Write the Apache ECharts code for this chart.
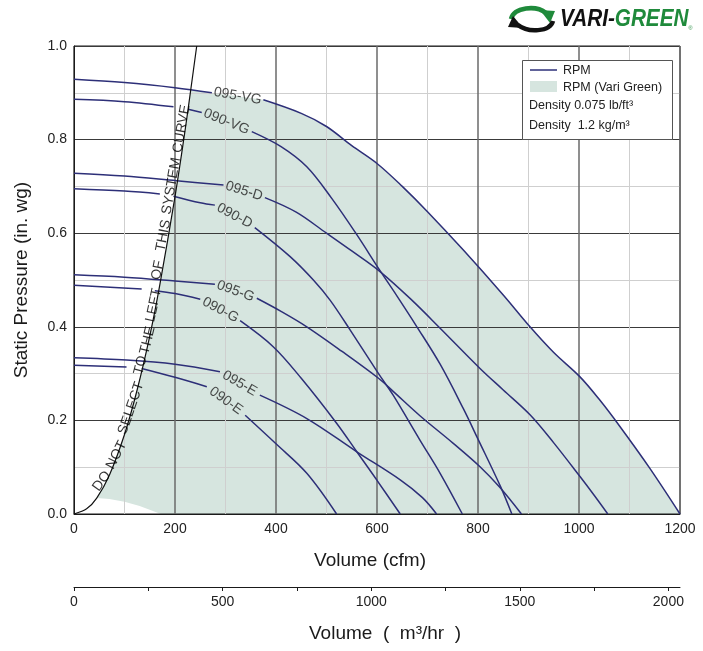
<!DOCTYPE html>
<html>
<head>
<meta charset="utf-8">
<script src="https://cdn.jsdelivr.net/npm/echarts@6/dist/echarts.min.js"></script>
<style>
html, body { margin: 0; padding: 0; background: #fff; }
#chart { width: 703px; height: 651px; }
</style>
</head>
<body>
<div id="chart"></div>
<script>
// fan curves, [cfm, in. wg]; '-' marks the gap where a label sits on the line
var rpm095VG = [[0, 0.929], [100, 0.922], [200, 0.911], [273, 0.900], [273, '-'], [375, 0.885], [450, 0.856], [500, 0.828], [550, 0.787], [600, 0.749], [650, 0.700], [700, 0.646], [771, 0.564], [850, 0.468], [903, 0.400], [950, 0.345], [1002, 0.293], [1040, 0.245], [1081, 0.187], [1140, 0.098], [1200, 0]];
var rpm090VG = [[0, 0.886], [100, 0.881], [197, 0.870], [197, '-'], [226, 0.865], [253, 0.858], [253, '-'], [352, 0.817], [410, 0.785], [461, 0.742], [510, 0.675], [558, 0.600], [606, 0.520], [640, 0.465], [679, 0.400], [725, 0.320], [771, 0.225], [800, 0.160], [844, 0.060], [867, 0]];
var rpm095D = [[0, 0.728], [100, 0.722], [203, 0.712], [296, 0.703], [296, '-'], [378, 0.676], [440, 0.645], [500, 0.600], [550, 0.562], [606, 0.518], [669, 0.457], [725, 0.397], [804, 0.311], [850, 0.265], [903, 0.212], [950, 0.152], [1002, 0.080], [1030, 0.040], [1057, 0]];
var rpm090D = [[0, 0.695], [100, 0.690], [170, 0.684], [170, '-'], [197, 0.679], [250, 0.665], [279, 0.660], [279, '-'], [358, 0.612], [428, 0.550], [474, 0.500], [507, 0.457], [547, 0.393], [603, 0.300], [632, 0.254], [685, 0.158], [725, 0.087], [769, 0]];
var rpm095G = [[0, 0.511], [100, 0.506], [200, 0.498], [279, 0.491], [279, '-'], [362, 0.461], [410, 0.433], [461, 0.400], [530, 0.348], [603, 0.290], [632, 0.262], [685, 0.210], [751, 0.151], [804, 0.101], [844, 0.056], [886, 0]];
var rpm090G = [[0, 0.489], [134, 0.481], [134, '-'], [160, 0.477], [200, 0.471], [250, 0.459], [250, '-'], [329, 0.413], [395, 0.357], [450, 0.290], [520, 0.194], [560, 0.133], [600, 0.072], [646, 0]];
var rpm095E = [[0, 0.334], [104, 0.329], [200, 0.320], [289, 0.304], [289, '-'], [368, 0.254], [461, 0.204], [560, 0.133], [646, 0.073], [690, 0.035], [718, 0]];
var rpm090E = [[0, 0.318], [104, 0.314], [104, '-'], [134, 0.311], [200, 0.292], [263, 0.272], [263, '-'], [339, 0.211], [400, 0.150], [461, 0.087], [520, 0]];

// system curve and lower edge of the Vari Green zone
var sysCurve = [[0, 0], [25, 0.011], [45, 0.034], [70, 0.083], [100, 0.170], [125, 0.265], [150, 0.380], [170, 0.490], [200, 0.678], [220, 0.820], [231, 0.905], [243, 1.0]];
var vgLower = [[45, 0.034], [70, 0.032], [100, 0.026], [130, 0.017], [155, 0.007], [172, 0]];

var curves = [
  ['095-VG', rpm095VG], ['090-VG', rpm090VG], ['095-D', rpm095D], ['090-D', rpm090D],
  ['095-G', rpm095G], ['090-G', rpm090G], ['095-E', rpm095E], ['090-E', rpm090E]
];

// curve labels: name, cfm, in. wg, angle
var curveLabels = [
  ['095-VG', 324, 0.893, -10], ['090-VG', 302, 0.838, -22],
  ['095-D', 337, 0.690, -17], ['090-D', 318, 0.637, -28],
  ['095-G', 320, 0.476, -20], ['090-G', 290, 0.436, -28],
  ['095-E', 328, 0.279, -30], ['090-E', 301, 0.242, -36]
];

// words written along the system curve: word, cfm, in. wg, angle
var sysWords = [
  ['DO', 55, 0.070, 54], ['NOT', 84, 0.126, 63], ['SELECT', 113, 0.226, 71],
  ['TO', 132, 0.318, 75], ['THE', 146, 0.371, 76], ['LEFT', 158, 0.446, 78],
  ['OF', 166, 0.521, 79], ['THIS', 177, 0.595, 79], ['SYSTEM', 193, 0.701, 80],
  ['CURVE', 213, 0.823, 80]
];

var m3hMax = 2039;   // 1200 cfm in m3/hr

var navy = '#2d2f78';
var shade = '#d6e5df';
var font = 'Liberation Sans';

// polygon of the shaded zone
var areaPoly = [[231, 0.905]];
sysCurve.slice().reverse().forEach(function (p) {
  if (p[0] < 231 && p[0] > 45) areaPoly.push(p);
});
vgLower.forEach(function (p) { areaPoly.push(p); });
rpm095VG.slice().reverse().forEach(function (p) {
  if (p[0] > 231 && p[1] !== '-') areaPoly.push(p);
});

var series = [];
series.push({
  type: 'custom',
  name: 'RPM (Vari Green)',
  data: areaPoly,
  z: -1,
  silent: true,
  renderItem: function (params, api) {
    if (params.dataIndex !== 0) return;
    var pts = areaPoly.map(function (p) { return api.coord(p); });
    return { type: 'polygon', shape: { points: pts }, style: { fill: shade } };
  }
});

curves.forEach(function (c) {
  series.push({
    type: 'line',
    name: c[0],
    data: c[1],
    smooth: 0.35,
    symbol: 'none',
    connectNulls: false,
    lineStyle: { color: navy, width: 1.5 },
    z: 3,
    silent: true
  });
});

series.push({
  type: 'line',
  name: 'system',
  data: sysCurve,
  smooth: 0.3,
  symbol: 'none',
  lineStyle: { color: '#111', width: 1.2 },
  z: 3,
  silent: true
});

series.push({
  type: 'scatter',
  symbolSize: 0,
  silent: true,
  z: 5,
  data: curveLabels.map(function (l) {
    return { name: l[0], value: [l[1], l[2]], label: { rotate: l[3] } };
  }),
  label: {
    show: true, position: 'inside', formatter: '{b}',
    fontFamily: font, fontSize: 14, color: '#222'
  }
});

series.push({
  type: 'scatter',
  symbolSize: 0,
  silent: true,
  z: 5,
  data: sysWords.map(function (w) {
    return { name: w[0], value: [w[1], w[2]], label: { rotate: w[3] } };
  }),
  label: {
    show: true, position: 'inside', formatter: '{b}',
    fontFamily: font, fontSize: 14, color: '#000'
  }
});

var chart = echarts.init(document.getElementById('chart'));
chart.setOption({
  animation: false,
  backgroundColor: '#fff',
  textStyle: { fontFamily: font },
  grid: [
    { left: 74, right: 23, top: 46, height: 468, show: true, borderColor: '#1a1a1a', borderWidth: 1, backgroundColor: 'transparent' },
    { left: 74, right: 23, top: 587, height: 0 }
  ],
  xAxis: [{
    type: 'value', gridIndex: 0, min: 0, max: 1200, interval: 200,
    name: 'Volume (cfm)', nameLocation: 'middle', nameGap: 37,
    nameTextStyle: { fontSize: 19, color: '#1a1a1a', fontFamily: font, padding: [0, 14, 0, 0] },
    axisLine: { show: true, lineStyle: { color: '#1a1a1a', width: 1 } },
    axisTick: { show: false },
    axisLabel: { fontSize: 14, color: '#222', margin: 8, fontFamily: font,
      formatter: function (v) { return String(v); } },
    splitLine: { show: true, lineStyle: { color: '#6a6a6a', width: 1.5 } },
    minorTick: { show: false, splitNumber: 2 },
    minorSplitLine: { show: true, lineStyle: { color: '#cfcfcf', width: 1 } }
  }, {
    type: 'value', gridIndex: 1, min: 0, max: m3hMax, interval: 250,
    name: 'Volume  (  m³/hr  )', nameLocation: 'middle', nameGap: 37,
    nameTextStyle: { fontSize: 19, color: '#1a1a1a', fontFamily: font, padding: [0, 0, 0, 16] },
    axisLine: { show: true, lineStyle: { color: '#1a1a1a', width: 1 } },
    axisTick: { show: true, length: 4, lineStyle: { color: '#1a1a1a' } },
    axisLabel: {
      fontSize: 14, color: '#222', margin: 8, fontFamily: font, showMaxLabel: false,
      formatter: function (v) { return v % 500 === 0 ? String(v) : ''; }
    },
    splitLine: { show: false }
  }],
  yAxis: [{
    type: 'value', gridIndex: 0, min: 0, max: 1.0, interval: 0.2,
    name: 'Static Pressure (in. wg)', nameLocation: 'middle', nameGap: 43,
    nameTextStyle: { fontSize: 19, color: '#1a1a1a', fontFamily: font },
    axisLine: { show: true, lineStyle: { color: '#1a1a1a', width: 1 } },
    axisTick: { show: false },
    axisLabel: { fontSize: 14, color: '#222', margin: 7, fontFamily: font,
      formatter: function (v) { return v.toFixed(1); } },
    splitLine: { show: true, lineStyle: { color: '#3a3a3a', width: 1 } },
    minorTick: { show: false, splitNumber: 2 },
    minorSplitLine: { show: true, lineStyle: { color: '#cfcfcf', width: 1 } }
  }, {
    type: 'value', gridIndex: 1, show: false, min: 0, max: 1
  }],
  series: series,
  graphic: [
    // legend box
    { type: 'rect', z: 10, shape: { x: 522.5, y: 60.5, width: 150, height: 79 },
      style: { fill: '#fff', stroke: '#555', lineWidth: 1 } },
    { type: 'line', z: 11, shape: { x1: 530, y1: 70, x2: 557, y2: 70 },
      style: { stroke: navy, lineWidth: 1.5 } },
    { type: 'text', z: 11, x: 563, y: 64,
      style: { text: 'RPM', fontSize: 12.5, fontFamily: font, fill: '#222' } },
    { type: 'rect', z: 11, shape: { x: 530, y: 81, width: 27, height: 11 },
      style: { fill: shade } },
    { type: 'text', z: 11, x: 563, y: 81,
      style: { text: 'RPM (Vari Green)', fontSize: 12.5, fontFamily: font, fill: '#222' } },
    { type: 'text', z: 11, x: 529, y: 99,
      style: { text: 'Density 0.075 lb/ft³', fontSize: 12.5, fontFamily: font, fill: '#222' } },
    { type: 'text', z: 11, x: 529, y: 119,
      style: { text: 'Density  1.2 kg/m³', fontSize: 12.5, fontFamily: font, fill: '#222' } },
    // logo
    { type: 'bezierCurve', z: 11,
      shape: { x1: 511, y1: 19, cpx1: 514, cpy1: 7, cpx2: 536, cpy2: 5, x2: 546, y2: 13 },
      style: { fill: null, stroke: '#1f8a3b', lineWidth: 4.5 } },
    { type: 'polygon', z: 11, shape: { points: [[540, 10], [555, 11], [550, 23]] },
      style: { fill: '#1f8a3b' } },
    { type: 'bezierCurve', z: 11,
      shape: { x1: 553, y1: 21, cpx1: 550, cpy1: 32, cpx2: 528, cpy2: 33, x2: 518, y2: 25 },
      style: { fill: null, stroke: '#111', lineWidth: 4.5 } },
    { type: 'polygon', z: 11, shape: { points: [[523, 28], [508, 27], [513, 16]] },
      style: { fill: '#111' } },
    { type: 'text', z: 11, x: 560, y: 8, scaleX: 0.9,
      style: {
        text: '{a|VARI-}{b|GREEN}{c|®}',
        rich: {
          a: { fontSize: 23, fontWeight: 'bold', fontStyle: 'italic', fontFamily: font, fill: '#111' },
          b: { fontSize: 23, fontWeight: 'bold', fontStyle: 'italic', fontFamily: font, fill: '#1f8a3b' },
          c: { fontSize: 6, fontFamily: font, fill: '#1f8a3b', verticalAlign: 'bottom' }
        }
      } }
  ]
});
</script>
</body>
</html>
